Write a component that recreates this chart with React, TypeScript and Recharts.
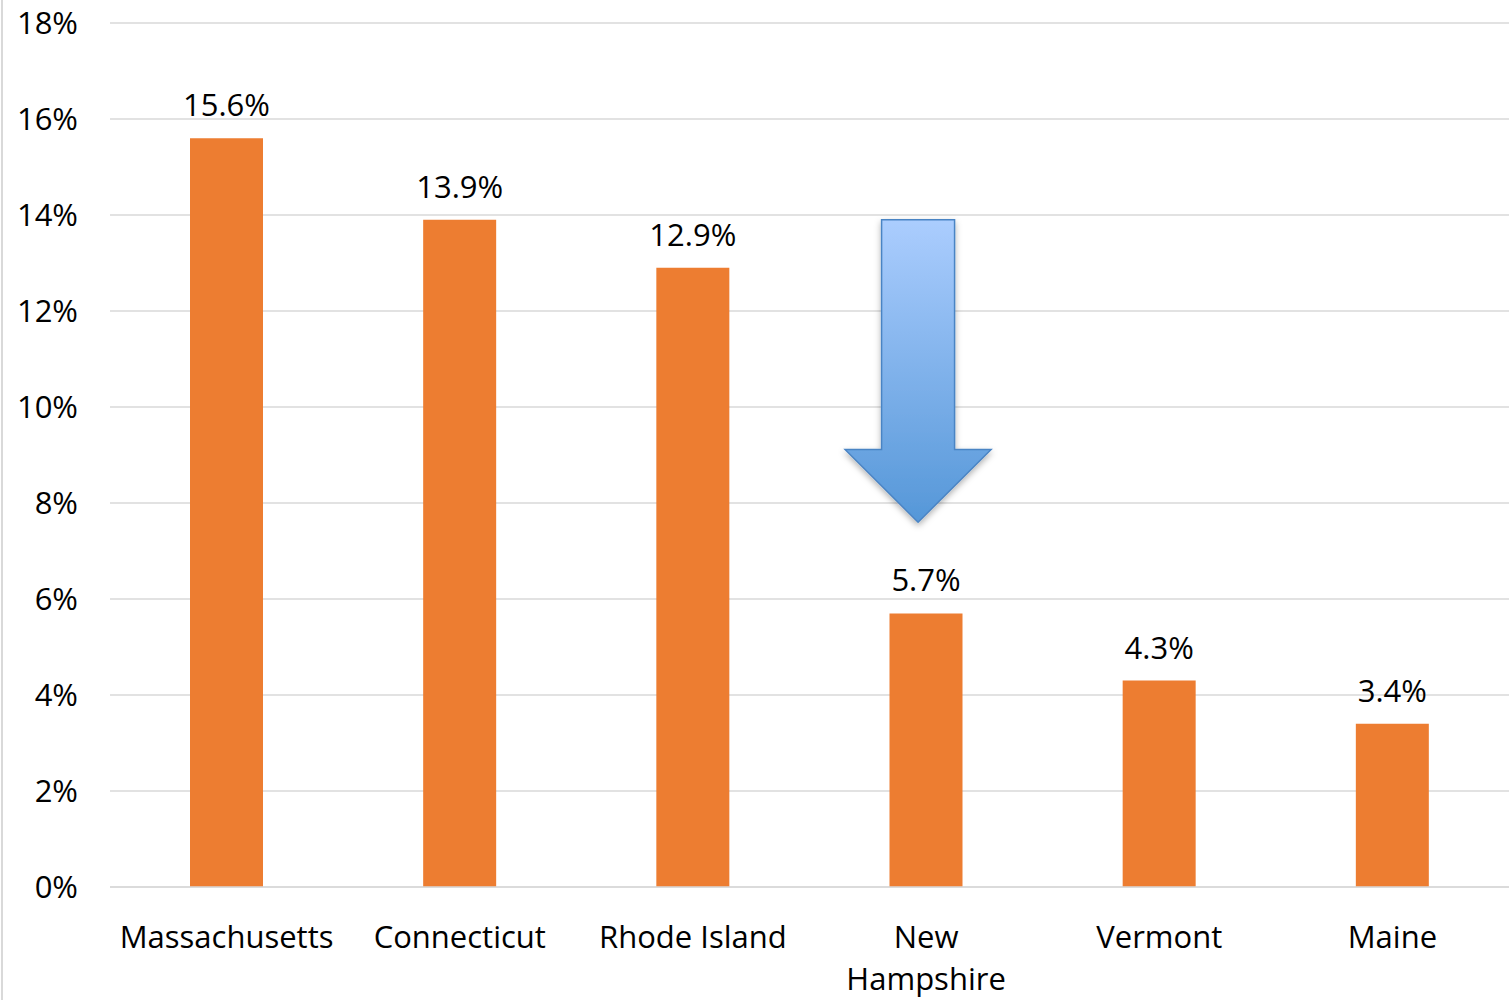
import { Bar, BarChart, CartesianGrid, LabelList, ReferenceArea, XAxis, YAxis } from 'recharts';

const states = ['Massachusetts', 'Connecticut', 'Rhode Island', 'New Hampshire', 'Vermont', 'Maine'];
const tickLines = [['Massachusetts'], ['Connecticut'], ['Rhode Island'], ['New', 'Hampshire'], ['Vermont'], ['Maine']];
const shares = [15.6, 13.9, 12.9, 5.7, 4.3, 3.4];
const yTicks = [0, 2, 4, 6, 8, 10, 12, 14, 16, 18];

// arrow annotation pointing at New Hampshire
const arrowState = 'New Hampshire';
const arrowTop = 13.9;
const arrowTip = 7.6;

const FONT = '"Open Sans", sans-serif';

const data = states.map((state, i) => ({ state, value: shares[i] }));

function StateTick({ x, y, index }: any) {
  const lines = tickLines[index] ?? [];
  return (
    <text x={x} y={y} textAnchor="middle" fontFamily={FONT} fontSize={31} fill="#000">
      {lines.map((line, i) => (
        <tspan key={line} x={x} dy={i === 0 ? 53 : 42}>
          {line}
        </tspan>
      ))}
    </text>
  );
}

function DownArrow({ x, y, width, height }: any) {
  const cx = x + width / 2 - 8;
  const shaft = 36.5;
  const head = 73;
  const headLen = height * 0.24;
  const bottom = y + height;
  const neck = bottom - headLen;
  const pts = [
    [cx - shaft, y],
    [cx + shaft, y],
    [cx + shaft, neck],
    [cx + head, neck],
    [cx, bottom],
    [cx - head, neck],
    [cx - shaft, neck],
  ]
    .map(p => p.join(','))
    .join(' ');
  return (
    <g>
      <defs>
        <linearGradient id="arrowFill" x1="0" y1="0" x2="0" y2="1">
          <stop offset="0%" stopColor="#abcdfe" />
          <stop offset="100%" stopColor="#5597d8" />
        </linearGradient>
        <filter id="arrowShadow" x="-20%" y="-10%" width="140%" height="130%">
          <feDropShadow dx="0" dy="3" stdDeviation="3" floodColor="#000" floodOpacity="0.3" />
        </filter>
      </defs>
      <polygon points={pts} fill="url(#arrowFill)" stroke="#4a84c4" strokeWidth={1.5} filter="url(#arrowShadow)" />
    </g>
  );
}

export default function App() {
  return (
    <div style={{ position: 'absolute', left: 0, top: 0, width: 1509, height: 1000, background: '#fff' }}>
      <div style={{ position: 'absolute', left: 1, top: 0, width: 2, height: 1000, background: '#d9d9d9' }} />
      <BarChart width={1509} height={1000} data={data} margin={{ top: 23, right: 0, bottom: 0, left: 0 }} barCategoryGap="34%">
        <CartesianGrid vertical={false} stroke="#d9d9d9" strokeWidth={1.5} />
        <XAxis
          dataKey="state"
          height={113}
          interval={0}
          tickLine={false}
          axisLine={{ stroke: '#d9d9d9', strokeWidth: 1.5 }}
          tick={<StateTick />}
        />
        <YAxis
          width={110}
          domain={[0, 18]}
          ticks={yTicks}
          interval={0}
          axisLine={false}
          tickLine={false}
          tickMargin={26}
          tickFormatter={(v: number) => `${v}%`}
          tick={{ fontFamily: FONT, fontSize: 31, fill: '#000' }}
        />
        <Bar dataKey="value" fill="#ed7d31" barSize={73} isAnimationActive={false}>
          <LabelList
            dataKey="value"
            position="top"
            offset={22}
            formatter={(v: any) => `${Number(v).toFixed(1)}%`}
            style={{ fontFamily: FONT, fontSize: 31, fill: '#000' }}
          />
        </Bar>
        <ReferenceArea
          x1={arrowState}
          x2={arrowState}
          y1={arrowTip}
          y2={arrowTop}
          ifOverflow="visible"
          shape={<DownArrow />}
        />
      </BarChart>
    </div>
  );
}
